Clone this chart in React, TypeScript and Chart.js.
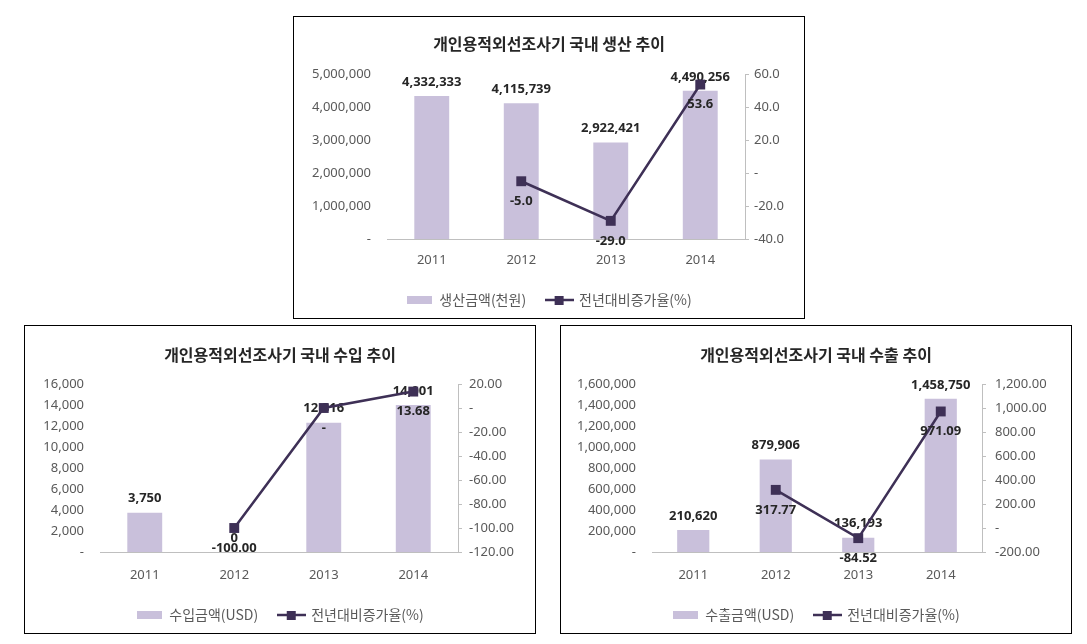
import React, { useEffect, useRef } from "react";
import { Chart, registerables } from "chart.js";

Chart.register(...registerables);

// ---------------- data ----------------
const years = ["2011", "2012", "2013", "2014"];
const rateLabel = "전년대비증가율(%)";

const prodTitle = "개인용적외선조사기 국내 생산 추이";
const prodAmountLabel = "생산금액(천원)";
const prodAmount = [4332333, 4115739, 2922421, 4490256];
const prodRate: (number | null)[] = [null, -5.0, -29.0, 53.6];
const prodLeftScale = [0, 5000000, 1000000]; // min, max, step
const prodRightScale = [-40, 60, 20];

const importTitle = "개인용적외선조사기 국내 수입 추이";
const importAmountLabel = "수입금액(USD)";
const importAmount = [3750, 0, 12316, 14001];
const importRate: (number | null)[] = [null, -100.0, 0, 13.68];
const importLeftScale = [0, 16000, 2000];
const importRightScale = [-120, 20, 20];

const exportTitle = "개인용적외선조사기 국내 수출 추이";
const exportAmountLabel = "수출금액(USD)";
const exportAmount = [210620, 879906, 136193, 1458750];
const exportRate: (number | null)[] = [null, 317.77, -84.52, 971.09];
const exportLeftScale = [0, 1600000, 200000];
const exportRightScale = [-200, 1200, 200];

// ---------------- styles ----------------
const BAR_COLOR = "#c9c0db";
const LINE_COLOR = "#3e3056";
const AXIS_COLOR = "#bfbfbf";
const TICK_COLOR = "#595959";
const LABEL_COLOR = "#262626";
const TITLE_COLOR = "#262626";
const LEGEND_COLOR = "#595959";
const KR = '"Noto Sans CJK KR", "Noto Sans", sans-serif';
const NUM = '"Noto Sans", "DejaVu Sans", sans-serif';

const fmtInt = (v: number) => v.toLocaleString("en-US");
const fmtFixed = (d: number) => (v: number) =>
  v.toLocaleString("en-US", { minimumFractionDigits: d, maximumFractionDigits: d });
const dashZero = (f: (v: number) => string) => (v: number) => (v === 0 ? "-" : f(v));

function makeBarSwatch() {
  const c = document.createElement("canvas");
  c.width = 25;
  c.height = 8;
  const ctx = c.getContext("2d")!;
  ctx.fillStyle = BAR_COLOR;
  ctx.fillRect(0, 0, 25, 8);
  return c;
}

function makeLineSwatch() {
  const c = document.createElement("canvas");
  c.width = 29;
  c.height = 10;
  const ctx = c.getContext("2d")!;
  ctx.strokeStyle = LINE_COLOR;
  ctx.lineWidth = 2.5;
  ctx.beginPath();
  ctx.moveTo(0, 5);
  ctx.lineTo(29, 5);
  ctx.stroke();
  ctx.fillStyle = LINE_COLOR;
  ctx.fillRect(10, 1, 9, 9);
  return c;
}

function makeValueLabels(barFmt: (v: number) => string, lineFmt: (v: number) => string) {
  return {
    id: "valueLabels",
    afterDatasetDraw(chart: any, args: any) {
      if (args.index !== 0) return;
      const ctx = chart.ctx;
      const data = chart.data.datasets[0].data;
      ctx.save();
      ctx.font = `bold 13px ${NUM}`;
      ctx.fillStyle = LABEL_COLOR;
      ctx.textAlign = "center";
      ctx.textBaseline = "middle";
      args.meta.data.forEach((el: any, i: number) => {
        const v = data[i];
        if (v == null) return;
        ctx.fillText(barFmt(v), el.x, el.y - 14);
      });
      ctx.restore();
    },
    afterDatasetsDraw(chart: any) {
      const ctx = chart.ctx;
      const meta = chart.getDatasetMeta(1);
      const data = chart.data.datasets[1].data;
      ctx.save();
      ctx.font = `bold 13px ${NUM}`;
      ctx.fillStyle = LABEL_COLOR;
      ctx.textAlign = "center";
      ctx.textBaseline = "middle";
      meta.data.forEach((el: any, i: number) => {
        const v = data[i];
        if (v == null) return;
        ctx.fillText(lineFmt(v), el.x, el.y + 20);
      });
      ctx.restore();
    },
  };
}

interface Lay {
  leftW: number;
  rightW: number;
  titleTop: number;
  titleBottom: number;
  xH: number;
  xPad: number;
  rightPad: number;
}

function buildConfig(
  title: string,
  amountLabel: string,
  amount: number[],
  rate: (number | null)[],
  leftScale: number[],
  rightScale: number[],
  rightFmt: (v: number) => string,
  rateFmt: (v: number) => string,
  lay: Lay
): any {
  const barSwatch = makeBarSwatch();
  const lineSwatch = makeLineSwatch();
  return {
    type: "bar",
    data: {
      labels: years,
      datasets: [
        {
          type: "bar",
          label: amountLabel,
          data: amount,
          backgroundColor: BAR_COLOR,
          borderWidth: 0,
          yAxisID: "y",
          order: 2,
          barPercentage: 0.39,
          categoryPercentage: 1,
        },
        {
          type: "line",
          label: rateLabel,
          data: rate,
          borderColor: LINE_COLOR,
          backgroundColor: LINE_COLOR,
          borderWidth: 2.5,
          pointStyle: "rect",
          pointRadius: 7,
          pointBorderWidth: 0,
          pointBackgroundColor: LINE_COLOR,
          yAxisID: "y1",
          order: 1,
          tension: 0,
        },
      ],
    },
    options: {
      animation: false,
      responsive: false,
      maintainAspectRatio: false,
      events: [],
      layout: { padding: { top: 0, left: 0, right: 0, bottom: 1 } },
      plugins: {
        tooltip: { enabled: false },
        title: {
          display: true,
          text: title,
          color: TITLE_COLOR,
          font: { family: KR, size: 16, weight: "bold" },
          padding: { top: lay.titleTop, bottom: lay.titleBottom },
        },
        legend: {
          display: true,
          position: "bottom",
          labels: {
            usePointStyle: true,
            pointStyleWidth: 26,
            padding: 20,
            color: LEGEND_COLOR,
            font: { family: KR, size: 14 },
            generateLabels: () => [
              {
                text: amountLabel,
                pointStyle: barSwatch,
                fillStyle: BAR_COLOR,
                strokeStyle: BAR_COLOR,
                lineWidth: 0,
                hidden: false,
                datasetIndex: 0,
                fontColor: LEGEND_COLOR,
              },
              {
                text: rateLabel,
                pointStyle: lineSwatch,
                fillStyle: LINE_COLOR,
                strokeStyle: LINE_COLOR,
                lineWidth: 0,
                hidden: false,
                datasetIndex: 1,
                fontColor: LEGEND_COLOR,
              },
            ],
          },
        },
      },
      scales: {
        x: {
          type: "category",
          offset: true,
          grid: { display: false, drawTicks: false },
          border: { display: true, color: AXIS_COLOR, width: 1 },
          ticks: { color: TICK_COLOR, font: { family: NUM, size: 13 }, padding: lay.xPad },
          afterFit: (s: any) => {
            s.height = lay.xH;
          },
        },
        y: {
          type: "linear",
          position: "left",
          min: leftScale[0],
          max: leftScale[1],
          grid: { display: false, drawTicks: false },
          border: { display: false },
          ticks: {
            stepSize: leftScale[2],
            color: TICK_COLOR,
            font: { family: NUM, size: 13 },
            padding: 16,
            callback: (v: any) => dashZero(fmtInt)(Number(v)),
          },
          afterFit: (s: any) => {
            s.width = lay.leftW;
          },
        },
        y1: {
          type: "linear",
          position: "right",
          min: rightScale[0],
          max: rightScale[1],
          grid: {
            display: true,
            drawOnChartArea: false,
            drawTicks: true,
            tickLength: 4,
            color: AXIS_COLOR,
          },
          border: { display: true, color: AXIS_COLOR, width: 1 },
          ticks: {
            stepSize: rightScale[2],
            color: TICK_COLOR,
            font: { family: NUM, size: 13 },
            padding: lay.rightPad,
            callback: (v: any) => dashZero(rightFmt)(Number(v)),
          },
          afterFit: (s: any) => {
            s.width = lay.rightW;
          },
        },
      },
    },
    plugins: [makeValueLabels(fmtInt, dashZero(rateFmt))],
  };
}

function ChartBox(props: { left: number; top: number; width: number; height: number; build: () => any }) {
  const ref = useRef<HTMLCanvasElement>(null);
  useEffect(() => {
    const chart = new Chart(ref.current!, props.build());
    return () => chart.destroy();
  }, []);
  return (
    <div
      style={{
        position: "absolute",
        left: props.left,
        top: props.top,
        width: props.width,
        height: props.height,
        border: "1px solid #000",
        boxSizing: "border-box",
        background: "#fff",
      }}
    >
      <canvas ref={ref} width={props.width - 2} height={props.height - 2} style={{ display: "block" }} />
    </div>
  );
}

export default function App() {
  return (
    <div>
      <ChartBox
        left={293}
        top={16}
        width={512}
        height={303}
        build={() =>
          buildConfig(prodTitle, prodAmountLabel, prodAmount, prodRate, prodLeftScale, prodRightScale, fmtFixed(1), fmtFixed(1), {
            leftW: 93,
            rightW: 59,
            titleTop: 17.4,
            titleBottom: 20.4,
            xH: 34,
            xPad: 13.2,
            rightPad: 5,
          })
        }
      />
      <ChartBox
        left={24}
        top={325}
        width={512}
        height={309}
        build={() =>
          buildConfig(importTitle, importAmountLabel, importAmount, importRate, importLeftScale, importRightScale, fmtFixed(2), fmtFixed(2), {
            leftW: 75,
            rightW: 77,
            titleTop: 19.4,
            titleBottom: 19.4,
            xH: 36,
            xPad: 15.2,
            rightPad: 7,
          })
        }
      />
      <ChartBox
        left={560}
        top={325}
        width={512}
        height={309}
        build={() =>
          buildConfig(exportTitle, exportAmountLabel, exportAmount, exportRate, exportLeftScale, exportRightScale, fmtFixed(2), fmtFixed(2), {
            leftW: 91,
            rightW: 89,
            titleTop: 19.4,
            titleBottom: 19.4,
            xH: 36,
            xPad: 15.2,
            rightPad: 9,
          })
        }
      />
    </div>
  );
}
